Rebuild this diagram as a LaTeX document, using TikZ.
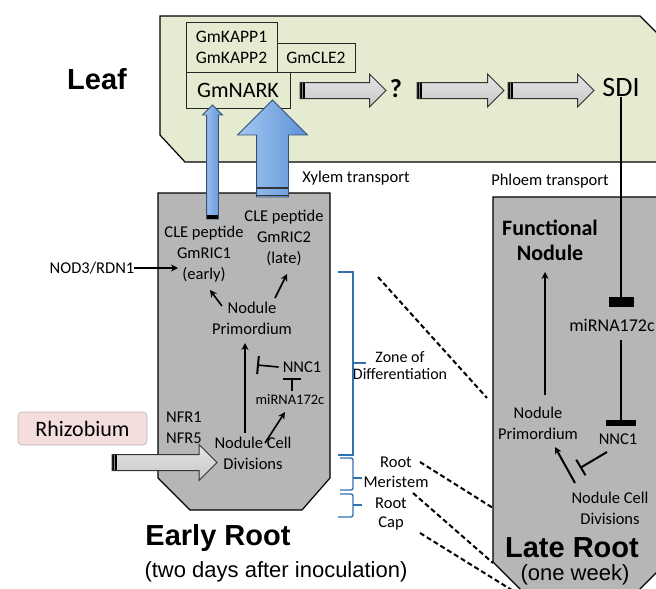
\documentclass[tikz,border=0pt]{standalone}
\usepackage{fontspec}
\setmainfont{Carlito}
\newfontfamily\arialfont{Liberation Sans}
\usetikzlibrary{arrows.meta,shapes.arrows}
\definecolor{leafgreen}{RGB}{229,235,208}
\definecolor{rootgray}{RGB}{182,182,182}
\definecolor{rhizopink}{RGB}{243,221,221}
\definecolor{zoneblue}{RGB}{50,112,180}
\definecolor{xylight}{RGB}{165,200,242}
\definecolor{xydark}{RGB}{92,145,215}
\tikzset{
  lbl/.style={font=\fontsize{16.5}{21}\selectfont, align=center, inner sep=0pt},
  genebox/.style={draw=black!85, line width=0.9pt, fill=leafgreen, inner sep=0pt,
    font=\fontsize{17.5}{21}\selectfont, align=center},
  graytail/.style={path picture={
      \fill[black] (path picture bounding box.south west) rectangle ([xshift=5pt]path picture bounding box.north west);
      \draw[black!45, line width=0.8pt] ([xshift=2.5pt]path picture bounding box.south west) -- ([xshift=2.5pt]path picture bounding box.north west);}},
  grayarrow/.style={single arrow, draw=black!80, line width=1pt, top color=black!10, bottom color=black!22,
    inner xsep=0pt, inner ysep=7.5pt, single arrow head extend=8.5pt, graytail},
  xyarrow/.style={single arrow, draw=xydark!55!black, line width=0.8pt, rotate=90,
    left color=xylight, right color=xydark, inner xsep=0pt},
  blk/.style={line width=1.6pt, -{Stealth[length=7pt,width=7pt]}},
  inhib/.style={line width=1.6pt, -{Bar[width=18pt,line width=2pt]}},
  zone/.style={draw=zoneblue, line width=1.4pt},
  fate/.style={dash pattern=on 5pt off 3pt, line width=2pt},
  title/.style={font=\arialfont\bfseries\fontsize{29}{33}\selectfont, inner sep=0pt},
  sub/.style={font=\arialfont\fontsize{22}{26}\selectfont, inner sep=0pt}
}

\begin{document}
\begin{tikzpicture}[x=1pt,y=-1pt]
\useasboundingbox (0,0) rectangle (656,589);
\clip (0,0) rectangle (656,589);

\draw[fill=leafgreen, line width=1.2pt] (160,16) -- (640,16) -- (675,51) -- (675,162) -- (185,162) -- (160,135) -- cycle;
\draw[fill=rootgray, line width=1.2pt] (158,193) -- (330,193) -- (330,478) -- (302,510) -- (190,510) -- (158,478) -- cycle;
\draw[fill=rootgray, line width=1.2pt] (493,197) -- (675,197) -- (675,554) -- (630,599) -- (530,599) -- (493,562) -- cycle;

\node[title] (leaf) at (97,79) {Leaf};
\node[genebox, minimum width=78pt, minimum height=29pt] (cle2) at (316,57.5) {GmCLE2};
\node[genebox, minimum width=91pt, minimum height=50pt] (kapp) at (231.5,47) {GmKAPP1\\GmKAPP2};
\node[genebox, minimum width=104pt, minimum height=36pt, font=\fontsize{22}{26}\selectfont] (nark) at (238,90) {GmNARK};

\node[grayarrow, minimum height=86pt] (g1) at (339,90.5) {};
\node[font=\bfseries\fontsize{26}{30}\selectfont, inner sep=0pt] (q) at (396,89) {?};
\node[grayarrow, minimum height=87pt] (g2) at (456.5,90.5) {};
\node[grayarrow, minimum height=86pt] (g3) at (547,90.5) {};
\node[font=\fontsize{28}{32}\selectfont, inner sep=0pt] (sdi) at (621,88) {SDI};

\node[xyarrow, minimum height=114pt, inner ysep=5.5pt, single arrow head extend=4pt] (xy1) at (212.5,165) {};
\node[xyarrow, minimum height=97pt, inner ysep=15.5pt, single arrow head extend=19pt] (xy2) at (272.5,156.5) {};
\fill ([shift={(-5.5,0)}]xy1.tail) rectangle ([shift={(5.5,-4)}]xy1.tail);
\draw[line width=2pt, black!80] ([shift={(-15.5,-9)}]xy2.tail) -- ([shift={(15.5,-9)}]xy2.tail);
\draw[line width=1.5pt, black!80] ([shift={(-15.5,-2)}]xy2.tail) -- ([shift={(15.5,-2)}]xy2.tail);

\node[lbl] (xylem) at (356,178) {Xylem transport};
\node[lbl] (phloem) at (550,181) {Phloem transport};

\node[lbl] (ric1) at (204,254) {CLE peptide\\GmRIC1\\(early)};
\node[lbl] (ric2) at (284,238) {CLE peptide\\GmRIC2\\(late)};
\node[lbl] (nod3) at (92,268) {NOD3/RDN1};
\node[lbl] (eprim) at (252,318) {Nodule\\Primordium};
\node[lbl] (ennc) at (302,367) {NNC1};
\node[lbl, font=\fontsize{14.5}{17}\selectfont] (emir) at (290,400) {miRNA172c};
\node[lbl] (ecd) at (253,453) {Nodule Cell\\Divisions};
\node[lbl, align=left] (nfr) at (184,428) {NFR1\\NFR5};
\node[draw=rhizopink!80!black, line width=0.6pt, fill=rhizopink, rounded corners=4pt, minimum width=129pt,
  minimum height=33pt, inner sep=0pt, font=\fontsize{22}{26}\selectfont] (rhizo) at (82.5,428.5) {Rhizobium};
\node[grayarrow, minimum height=105pt, single arrow head extend=10pt] (g4) at (160.5,462.5) {};
\node[title] (early) at (218,538) {Early Root};
\node[sub] (earlysub) at (276,572) {(two days after inoculation)};

\draw[blk] (nod3.east) -- ([shift={(-26,14)}]ric1.center);
\draw[blk] ([shift={(-30,-12)}]eprim.center) -- ([shift={(6,36)}]ric1.center);
\draw[blk] ([shift={(23,-20)}]eprim.center) -- ([shift={(3,36)}]ric2.center);
\draw[blk] ([shift={(-8,-20)}]ecd.center) -- ([shift={(-7,25)}]eprim.center);
\draw[blk] ([shift={(12,-10)}]ecd.center) -- ([shift={(-5,12)}]emir.center);
\draw[inhib] ([shift={(-4,0)}]ennc.west) -- ([shift={(-45,-2)}]ennc.center);
\draw[inhib] ([shift={(2,-9)}]emir.center) -- ([shift={(-10,11)}]ennc.center);

\node[lbl, font=\bfseries\fontsize{22}{25}\selectfont] (func) at (550,240) {Functional\\Nodule};
\node[lbl, font=\fontsize{18}{21}\selectfont] (lmir) at (612,325) {miRNA172c};
\node[lbl] (lprim) at (538,423) {Nodule\\Primordium};
\node[lbl] (lnnc) at (618,439) {NNC1};
\node[lbl] (lcd) at (610,508) {Nodule Cell\\Divisions};
\node[title] (late) at (572,548) {Late Root};
\node[sub] (latesub) at (575,575) {(one week)};

\draw[line width=2.5pt, -{Rectangle[length=10pt,width=25pt]}] (sdi.south) -- ([shift={(9,-18)}]lmir.center);
\draw[line width=2.5pt, -{Rectangle[length=6pt,width=30pt]}] ([shift={(9,15)}]lmir.center) -- ([shift={(3,-13)}]lnnc.center);
\draw[blk, line width=2pt] ([shift={(7,-28)}]lprim.center) -- ([shift={(-5,32)}]func.center);
\draw[blk, line width=2pt] ([shift={(-35,-25)}]lcd.center) -- ([shift={(17,24)}]lprim.center);
\draw[inhib, line width=2pt] ([shift={(-11,13)}]lnnc.center) -- ([shift={(-38,29)}]lnnc.center);

\node[lbl, font=\fontsize{16}{17}\selectfont] (zone) at (400,366) {Zone of\\Differentiation};
\node[lbl] (root1) at (396,462) {Root};
\node[lbl] (mer) at (396,482) {Meristem};
\node[lbl] (root2) at (391,503) {Root};
\node[lbl] (cap) at (391,523) {Cap};

\draw[zone] (338,272) -- (353,272) -- (353,455) -- (338,455);
\draw[zone] (353,363) -- (366,363);
\draw[zone, rounded corners=2pt] (340,458) -- (353,458) -- (353,490) -- (340,490);
\draw[zone] (353,478) -- (362,478);
\draw[zone, rounded corners=2pt] (340,494) -- (353,494) -- (353,517) -- (338,517);
\draw[zone] (353,505) -- (362,505);

\coordinate (zd1) at (378,277);
\coordinate (zd2) at (487,398);
\coordinate (zd3) at (493,508);
\coordinate (zd4) at (493,563);
\coordinate (zd5) at (515,592);
\draw[fate] (zd1) -- (zd2);
\draw[fate] ([shift={(8,0)}]root1.east) -- (zd3);
\draw[fate] ([shift={(17,11)}]mer.center) -- (zd4);
\draw[fate] ([shift={(29,10)}]cap.center) -- (zd5);
\end{tikzpicture}
\end{document}
